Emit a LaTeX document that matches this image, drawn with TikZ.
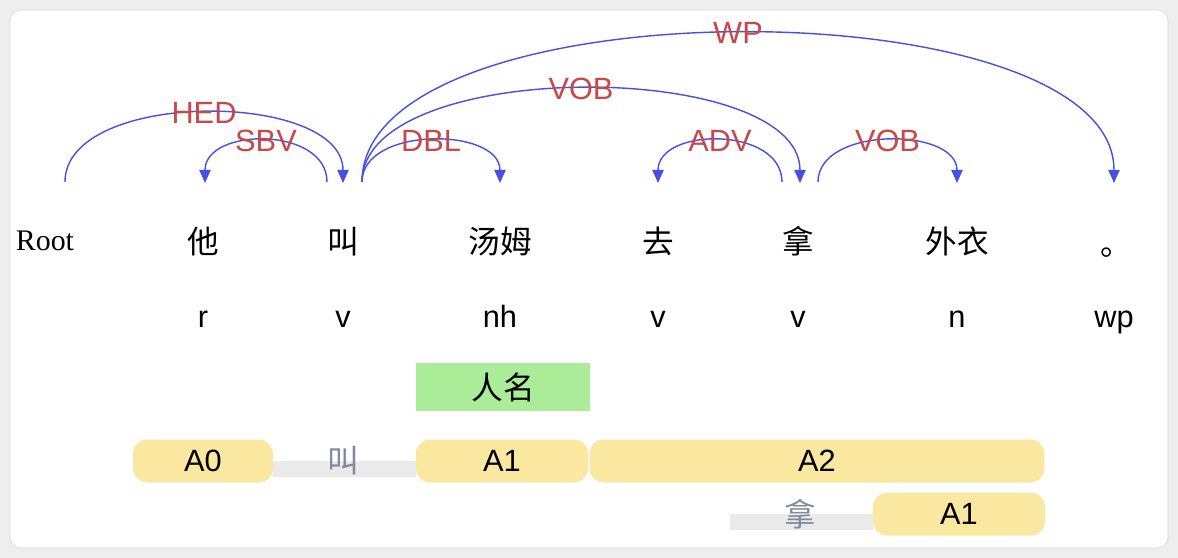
\documentclass[tikz,border=0pt]{standalone}
\usepackage{fontspec}
\setmainfont{Liberation Serif}
\setsansfont{Liberation Sans}
\newfontfamily\cjk{Noto Sans CJK SC}
\usetikzlibrary{arrows.meta,backgrounds}
\definecolor{arcblue}{RGB}{70,80,228}
\definecolor{labred}{RGB}{200,72,72}
\definecolor{argyellow}{RGB}{250,232,160}
\definecolor{negreen}{RGB}{170,236,152}
\definecolor{bargray}{RGB}{234,234,234}
\definecolor{predgray}{RGB}{125,140,155}
\definecolor{pagegray}{RGB}{238,238,238}
\definecolor{cardline}{RGB}{216,216,216}

\begin{document}
\begin{tikzpicture}[x=0.02cm,y=-0.02cm]
		\tikzstyle{word}=[font=\cjk\fontsize{18}{20}\selectfont,text height=14pt,text depth=3pt]
		\tikzstyle{tag}=[font=\sffamily\fontsize{17.5}{20}\selectfont,text height=12.5pt,text depth=3.5pt]
		\tikzstyle{rel}=[font=\sffamily\fontsize{17.5}{20}\selectfont,text=labred,inner sep=0pt]
		\tikzstyle{dep}=[draw=arcblue,line width=0.8pt,-{Triangle[width=6.5pt,length=7.5pt]}]
		\tikzstyle{arg}=[fill=argyellow,rounded corners=8pt,minimum height=0.86cm,inner sep=0pt,font=\sffamily\fontsize{17.5}{20}\selectfont]
		\tikzstyle{pred}=[font=\cjk\fontsize{18}{20}\selectfont,text=predgray]
		\tikzstyle{bar}=[draw=bargray,line width=0.32cm]
		
		\useasboundingbox (0,0) rectangle (1178,558);
		\begin{scope}[on background layer]
		\fill[pagegray] (0,0) rectangle (1178,558);
		\draw[cardline,fill=white,rounded corners=6pt] (10,10) rectangle (1168,548);
		\end{scope}
		
		% words
		\node[font=\rmfamily\fontsize{17}{20}\selectfont,text height=12pt,text depth=1pt](w0) at (45,241){Root};
		\node[word](w1) at (203,244){他};
		\node[word](w2) at (343,244){叫};
		\node[word](w3) at (500,244){汤姆};
		\node[word](w4) at (658,244){去};
		\node[word](w5) at (798,244){拿};
		\node[word](w6) at (957,244){外衣};
		\node[word](w7) at (1116,246){。};
		
		% part of speech
		\node[tag](p1) at (203,320){r};
		\node[tag](p2) at (343,320){v};
		\node[tag](p3) at (500,320){nh};
		\node[tag](p4) at (658,320){v};
		\node[tag](p5) at (798,320){v};
		\node[tag](p6) at (957,320){n};
		\node[tag](p7) at (1114,320){wp};
		
		% arc ends
		\coordinate (e0) at (65,182);
		\coordinate (e1) at (205,183);
		\coordinate (e2l) at (327,182);
		\coordinate (e2) at (343,183);
		\coordinate (e2r) at (362,182);
		\coordinate (e3) at (500,183);
		\coordinate (e4) at (658,183);
		\coordinate (e5l) at (782,182);
		\coordinate (e5) at (800,183);
		\coordinate (e5r) at (818,182);
		\coordinate (e6) at (957,183);
		\coordinate (e7) at (1114,183);
		
		\draw[dep] (e0) .. controls +(0,-93) and +(0,-93) .. (e2) node[rel,pos=0.5]{HED};
		\draw[dep] (e2l) .. controls +(0,-56) and +(0,-56) .. (e1) node[rel,pos=0.5]{SBV};
		\draw[dep] (e2r) .. controls +(0,-56) and +(0,-56) .. (e3) node[rel,pos=0.5]{DBL};
		\draw[dep] (e2r) .. controls +(0,-125) and +(0,-125) .. (e5) node[rel,pos=0.5]{VOB};
		\draw[dep] (e2r) .. controls +(0,-199) and +(0,-199) .. (e7) node[rel,pos=0.5]{WP};
		\draw[dep] (e5l) .. controls +(0,-56) and +(0,-56) .. (e4) node[rel,pos=0.5]{ADV};
		\draw[dep] (e5r) .. controls +(0,-56) and +(0,-56) .. (e6) node[rel,pos=0.5]{VOB};
		
		% named entity
		\node[fill=negreen,minimum width=3.48cm,minimum height=0.98cm,inner sep=0pt,font=\cjk\fontsize{18}{20}\selectfont](ne) at (503,387){人名};
		
		% semantic roles
		\node[arg,minimum width=2.8cm](a0) at (203,461){A0};
		\node[arg,minimum width=3.44cm](a1) at (502,461){A1};
		\node[arg,minimum width=9.1cm](a2) at (817,461){A2};
		\node[arg,minimum width=3.44cm](a1b) at (959,514){A1};
		\node[pred](v1) at (343,461){叫};
		\node[pred](v2) at (800,514){拿};
		\coordinate (b2) at (730,522);
		
		\begin{scope}[on background layer]
		\draw[bar] ([yshift=-0.16cm]a0.east) -- ([yshift=-0.16cm]a1.west);
		\draw[bar] (b2) -- (b2 -| a1b.west);
		\end{scope}
\end{tikzpicture}
\end{document}
